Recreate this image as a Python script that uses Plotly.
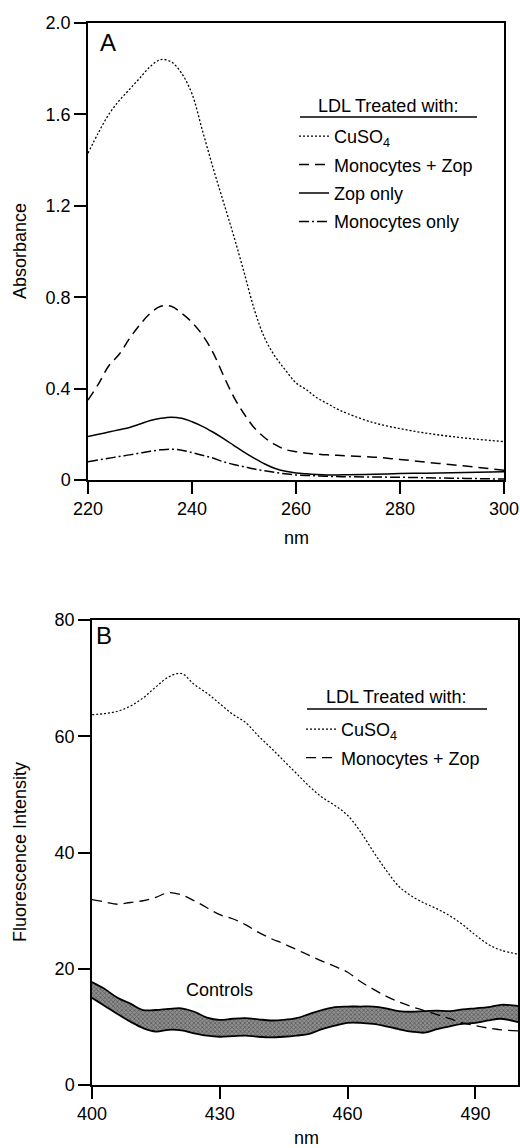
import plotly.graph_objects as go

W, H = 520, 1148

# ---------------- Panel A data (absorbance) ----------------
nm_a = [220, 222, 224, 226, 228, 230, 232, 234, 236, 238, 240, 242, 244, 246, 248, 250,
        252, 254, 256, 258, 260, 262, 264, 266, 268, 270, 275, 280, 285, 290, 295, 300]
a_cuso4 = [1.43, 1.52, 1.60, 1.66, 1.71, 1.76, 1.81, 1.84, 1.83, 1.78, 1.69, 1.53, 1.37, 1.22, 1.07, 0.91,
           0.745, 0.62, 0.54, 0.48, 0.425, 0.395, 0.36, 0.335, 0.31, 0.29, 0.25, 0.225, 0.205, 0.19, 0.178, 0.168]
a_mono_zop = [0.35, 0.42, 0.50, 0.55, 0.62, 0.68, 0.73, 0.76, 0.76, 0.73, 0.69, 0.635, 0.56, 0.46, 0.365, 0.29,
              0.228, 0.185, 0.155, 0.133, 0.124, 0.117, 0.113, 0.110, 0.108, 0.106, 0.100, 0.090, 0.078, 0.067, 0.055, 0.043]
a_zop = [0.19, 0.20, 0.21, 0.22, 0.23, 0.245, 0.26, 0.27, 0.275, 0.27, 0.255, 0.235, 0.21, 0.182, 0.152, 0.122,
         0.095, 0.07, 0.05, 0.038, 0.031, 0.027, 0.024, 0.022, 0.022, 0.023, 0.025, 0.028, 0.030, 0.032, 0.034, 0.036]
a_mono = [0.08, 0.088, 0.095, 0.103, 0.11, 0.118, 0.126, 0.132, 0.135, 0.13, 0.12, 0.108, 0.096, 0.08, 0.068, 0.058,
          0.048, 0.04, 0.033, 0.027, 0.022, 0.02, 0.018, 0.016, 0.015, 0.014, 0.013, 0.012, 0.01, 0.008, 0.006, 0.004]

a_xticks = [220, 240, 260, 280, 300]
a_yticks = [0, 0.4, 0.8, 1.2, 1.6, 2.0]
a_yticktext = ["0", "0.4", "0.8", "1.2", "1.6", "2.0"]

# ---------------- Panel B data (fluorescence) ----------------
nm_b = [400, 403, 406, 409, 412, 415, 418, 421, 424, 427, 430, 433, 436, 439, 442, 445, 448,
        451, 454, 457, 460, 463, 466, 469, 472, 475, 478, 481, 484, 487, 490, 493, 496, 500]
b_cuso4 = [63.7, 63.9, 64.3, 65.2, 66.6, 68.5, 70.2, 70.8, 68.9, 67.4, 65.6, 63.8, 62.4, 60.1, 58.0, 55.8, 53.6,
           51.4, 49.5, 48.1, 46.4, 43.6, 40.2, 37.0, 34.2, 32.5, 31.3, 30.3, 29.1, 27.6, 25.8, 24.2, 23.2, 22.5]
b_mono_zop = [31.9, 31.5, 31.1, 31.4, 31.7, 32.3, 33.1, 32.7, 31.7, 30.5, 29.3, 28.6, 27.6, 26.3, 25.2, 24.3, 23.3,
              22.3, 21.3, 20.4, 19.4, 17.8, 16.5, 15.3, 14.3, 13.5, 12.8, 12.1, 11.4, 10.7, 10.2, 9.8, 9.5, 9.3]
b_ctrl_upper = [17.7, 16.5, 15.0, 14.0, 12.9, 12.9, 13.1, 13.2, 12.6, 11.6, 11.2, 11.4, 11.5, 11.3, 11.1, 11.2, 11.5,
                12.2, 12.9, 13.4, 13.5, 13.5, 13.5, 13.2, 12.7, 12.6, 12.7, 12.8, 12.7, 13.0, 13.2, 13.4, 13.8, 13.6]
b_ctrl_lower = [15.0, 13.6, 12.2, 10.9, 9.8, 9.2, 9.5, 9.4, 8.9, 8.5, 8.3, 8.4, 8.5, 8.3, 8.2, 8.3, 8.5,
                8.8, 9.6, 10.2, 10.7, 10.7, 10.5, 10.1, 9.6, 9.2, 9.0, 9.6, 10.1, 10.5, 10.7, 11.1, 11.4, 10.8]

b_xticks = [400, 430, 460, 490]
b_yticks = [0, 20, 40, 60, 80]

legend_title = "LDL Treated with:"

FONT = "Liberation Sans, Arial, Helvetica, sans-serif"
DOT = "2px,2px"
DASH = "10px,6px"
DASHDOT = "10px,3px,2px,3px"

def px(x):
    return x / W

def py(y):
    return 1 - y / H

fig = go.Figure()

# Panel A traces
fig.add_trace(go.Scatter(x=nm_a, y=a_cuso4, mode="lines", name="CuSO<sub>4</sub>",
                         line=dict(color="black", width=1.3, dash=DOT, shape="spline"),
                         xaxis="x", yaxis="y", legend="legend", legendgroup="a1"))
fig.add_trace(go.Scatter(x=nm_a, y=a_mono_zop, mode="lines", name="Monocytes + Zop",
                         line=dict(color="black", width=1.5, dash=DASH, shape="spline"),
                         xaxis="x", yaxis="y", legend="legend", legendgroup="a2"))
fig.add_trace(go.Scatter(x=nm_a, y=a_zop, mode="lines", name="Zop only",
                         line=dict(color="black", width=1.5, shape="spline"),
                         xaxis="x", yaxis="y", legend="legend", legendgroup="a3"))
fig.add_trace(go.Scatter(x=nm_a, y=a_mono, mode="lines", name="Monocytes only",
                         line=dict(color="black", width=1.5, dash=DASHDOT, shape="spline"),
                         xaxis="x", yaxis="y", legend="legend", legendgroup="a4"))

# Panel B traces
fig.add_trace(go.Scatter(x=nm_b, y=b_ctrl_lower, mode="lines", showlegend=False,
                         line=dict(color="black", width=1.8, shape="spline"),
                         xaxis="x2", yaxis="y2"))
fig.add_trace(go.Scatter(x=nm_b, y=b_ctrl_upper, mode="lines", showlegend=False,
                         line=dict(color="black", width=1.8, shape="spline"),
                         fill="tonexty", fillcolor="#707070",
                         fillpattern=dict(shape="x", fgcolor="#2a2a2a", bgcolor="#8e8e8e", size=3, solidity=0.45),
                         xaxis="x2", yaxis="y2"))
fig.add_trace(go.Scatter(x=nm_b, y=b_cuso4, mode="lines", name="CuSO<sub>4</sub>",
                         line=dict(color="black", width=1.2, dash=DOT, shape="spline"),
                         xaxis="x2", yaxis="y2", legend="legend2", legendgroup="b1"))
fig.add_trace(go.Scatter(x=nm_b, y=b_mono_zop, mode="lines", name="Monocytes + Zop",
                         line=dict(color="black", width=1.3, dash=DASH, shape="spline"),
                         xaxis="x2", yaxis="y2", legend="legend2", legendgroup="b2"))

axis_common = dict(showgrid=False, zeroline=False, showline=True, linecolor="black", linewidth=1.5,
                   mirror=True, ticks="outside", ticklen=12, tickwidth=1.5, tickcolor="black",
                   automargin=False,
                   tickfont=dict(family=FONT, size=18, color="black"))

fig.update_layout(
    width=W, height=H,
    margin=dict(l=0, r=0, t=0, b=0),
    paper_bgcolor="white", plot_bgcolor="white",
    font=dict(family=FONT, size=18, color="black"),
    xaxis=dict(domain=[px(88), px(504)], range=[220, 300], tickvals=a_xticks, anchor="y", **axis_common),
    yaxis=dict(domain=[py(480), py(23)], range=[0, 2.0], tickvals=a_yticks, ticktext=a_yticktext,
               anchor="x", **axis_common),
    xaxis2=dict(domain=[px(92), px(518)], range=[400, 500], tickvals=b_xticks, anchor="y2", **axis_common),
    yaxis2=dict(domain=[py(1085), py(620)], range=[0, 80], tickvals=b_yticks, anchor="x2", **axis_common),
    legend=dict(x=px(294), y=py(118), xanchor="left", yanchor="top", bgcolor="rgba(0,0,0,0)",
                font=dict(family=FONT, size=18), tracegroupgap=2, itemwidth=30),
    legend2=dict(x=px(301), y=py(711), xanchor="left", yanchor="top", bgcolor="rgba(0,0,0,0)",
                 font=dict(family=FONT, size=18), tracegroupgap=2, itemwidth=30),
    showlegend=True,
)

# legend title underlines
fig.add_shape(type="line", xref="paper", yref="paper", x0=px(300), x1=px(477), y0=py(117), y1=py(117),
              line=dict(color="black", width=1.5))
fig.add_shape(type="line", xref="paper", yref="paper", x0=px(307), x1=px(487), y0=py(709), y1=py(709),
              line=dict(color="black", width=1.5))

ann = [
    dict(text=legend_title, x=px(388), y=py(106), font=dict(size=18)),
    dict(text=legend_title, x=px(396), y=py(697), font=dict(size=18)),
    dict(text="A", x=px(108), y=py(43), font=dict(size=24)),
    dict(text="B", x=px(104), y=py(635), font=dict(size=24)),
    dict(text="Absorbance", x=px(20), y=py(251), textangle=-90, font=dict(size=18)),
    dict(text="Fluorescence Intensity", x=px(20), y=py(852), textangle=-90, font=dict(size=18)),
    dict(text="nm", x=px(296), y=py(538), font=dict(size=18)),
    dict(text="nm", x=px(306), y=py(1138), font=dict(size=18)),
    dict(text="Controls", x=px(219), y=py(990), font=dict(size=18)),
]
for a in ann:
    fig.add_annotation(xref="paper", yref="paper", showarrow=False, xanchor="center", yanchor="middle",
                       font_family=FONT, font_color="black", **{k: v for k, v in a.items()})

fig.write_html("out.html", config={"displayModeBar": False},
               post_script="document.body.style.margin='0px';")
